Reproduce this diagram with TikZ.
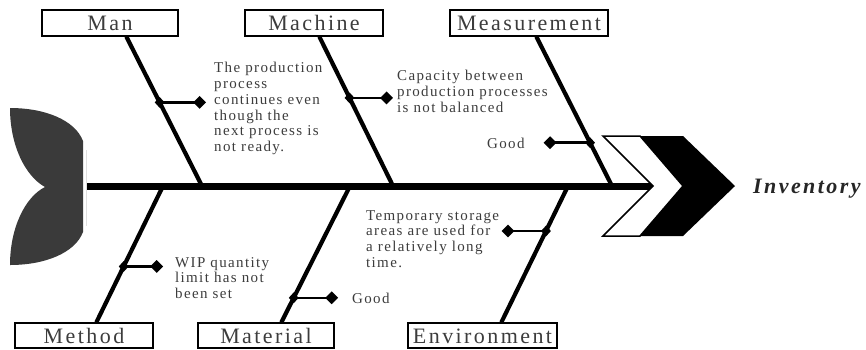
\documentclass[tikz,border=0pt]{standalone}
\usepackage{fontspec}
\setmainfont{Liberation Serif}
\newfontfamily\causefont[LetterSpace=11]{Liberation Serif}
\newfontfamily\notefont[LetterSpace=9]{Liberation Serif}
\usetikzlibrary{calc,shapes.geometric}
\definecolor{tailgray}{RGB}{58,58,58}
\definecolor{inkgray}{RGB}{60,60,60}

\begin{document}
\begin{tikzpicture}[x=1pt, y=-1pt,
    cause/.style={rectangle, draw, line width=1.3pt, minimum height=26pt, inner sep=0pt, text height=15pt, text depth=0pt, text=inkgray, font=\causefont\fontsize{22}{26}\selectfont},
    bone/.style={line width=4.2pt},
    twig/.style={line width=2.6pt},
    knot/.style={diamond, fill=black, inner sep=0pt, minimum width=10pt, minimum height=11pt},
    tip/.style={diamond, fill=black, inner sep=0pt, minimum width=13pt, minimum height=13pt},
    note/.style={anchor=north west, inner sep=0pt, align=left, text=inkgray, font=\notefont\fontsize{15}{15.8}\selectfont}]

    \useasboundingbox (0,0) rectangle (866,349);

    % Tail.
    \fill[tailgray] (45,187) .. controls (25,176) and (10,145) .. (10,108)
        .. controls (45,108) and (75,120) .. (83,141) -- (83,232)
        .. controls (75,253) and (45,265) .. (10,265)
        .. controls (10,228) and (25,197) .. (45,187) -- cycle;
    \draw[gray!25, line width=0.8pt] (86,150) -- (86,226);

    % Spine.
    \coordinate (tail) at (87,186);
    \coordinate (head) at (655,186);
    \draw[line width=7pt] (tail) -- (head);

    % Head.
    \draw[fill=white, line width=1.5pt] (603,136) -- (640,136) -- (683,186) -- (640,236) -- (603,236) -- (653,186) -- cycle;
    \fill (640,136) -- (683,136) -- (735,186) -- (683,236) -- (640,236) -- (683,186) -- cycle;
    \node[anchor=base west, inner sep=0pt, text=black!85, font=\causefont\bfseries\itshape\fontsize{22}{26}\selectfont] (effect) at (753,193) {Inventory};

    % Top causes.
    \node[cause, minimum width=136pt] (man) at (110,23) {Man};
    \node[cause, minimum width=138pt] (machine) at (314,23) {Machine};
    \node[cause, minimum width=158pt] (measurement) at (529,23) {Measurement};

    % Bottom causes.
    \node[cause, minimum width=138pt, minimum height=25pt] (method) at (84,335.5) {Method};
    \node[cause, minimum width=136pt, minimum height=25pt] (material) at (266,335.5) {Material};
    \node[cause, minimum width=149pt, minimum height=25pt] (environment) at (482.5,335.5) {Environment};

    % Points on the spine.
    \coordinate (s-man) at (202,186);
    \coordinate (s-machine) at (393,186);
    \coordinate (s-measurement) at (612,186);
    \coordinate (s-method) at (163,186);
    \coordinate (s-material) at (350,186);
    \coordinate (s-environment) at (568,186);

    % Top bones.
    \foreach \c/\dx/\t in {man/85/0.44, machine/75/0.41, measurement/87/0.71}
        \draw[bone] ([xshift=\dx]\c.south west) -- (s-\c) coordinate[pos=\t] (j-\c);

    % Bottom bones.
    \foreach \c/\dx/\t in {method/82/0.59, material/84/0.82, environment/94/0.33}
        \draw[bone] (s-\c) -- ([xshift=\dx]\c.north west) coordinate[pos=\t] (j-\c);

    % Sub-causes.
    \foreach \c/\dx in {man/40, machine/37, measurement/-40, method/33, material/38, environment/-38} {
        \node[tip, xshift=\dx] (d-\c) at (j-\c) {};
        \draw[twig] (j-\c) -- (d-\c.center);
        \node[knot] (k-\c) at (j-\c) {};
    }

    % Notes.
    \node[note] (n-man) at (214,62) {The production\\process\\continues even\\though the\\next process is\\not ready.};
    \node[note] (n-machine) at (397,70) {Capacity between\\production processes\\is not balanced};
    \node[note] (n-measurement) at (487,138) {Good};
    \node[note] (n-method) at (175,257) {WIP quantity\\limit has not\\been set};
    \node[note] (n-material) at (352,293) {Good};
    \node[note] (n-environment) at (366,210) {Temporary storage\\areas are used for\\a relatively long\\time.};

\end{tikzpicture}
\end{document}
